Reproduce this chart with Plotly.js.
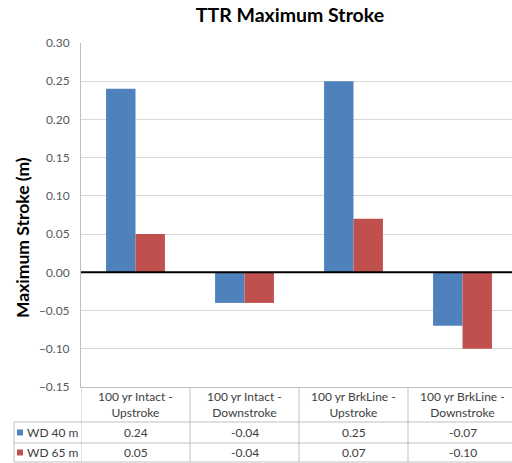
<!DOCTYPE html>
<html>
<head>
<meta charset="utf-8">
<script src="https://cdn.plot.ly/plotly-3.0.1.min.js"></script>
<style>
  html, body { margin: 0; padding: 0; background: #ffffff; }
  #chart { width: 512px; height: 463px; }
</style>
</head>
<body>
<div id="chart"></div>
<script>
// Load cases shown along the category axis
const categories = [
  "100 yr Intact -<br>Upstroke",
  "100 yr Intact -<br>Downstroke",
  "100 yr BrkLine -<br>Upstroke",
  "100 yr BrkLine -<br>Downstroke"
];

// Series names (water depth)
const seriesNames = ["WD 40 m", "WD 65 m"];

// Maximum stroke (m) per load case
const wd40 = [0.24, -0.04, 0.25, -0.07];
const wd65 = [0.05, -0.04, 0.07, -0.10];

const seriesValues = [wd40, wd65];
const seriesColors = ["#4F81BD", "#C0504D"];

const FONT = "Lato, 'Open Sans', 'Liberation Sans', sans-serif";
const TEXT = "#404040";
const GRID = "#d9d9d9";
const BORDER = "#bfbfbf";

// Plot area geometry (pixels) used to place the data table below the axis
const W = 512, H = 463;
const M = { l: 81, r: 0, t: 43, b: 76 };
const plotW = W - M.l - M.r;
const plotH = H - M.t - M.b;
const catPx = 109;                         // width of one category column
const xMax = -0.5 + plotW / catPx;         // table columns keep going past the edge

// pixel -> paper helpers for table placement
const px = x => (x - M.l) / plotW;
const py = y => (H - M.b - y) / plotH;

const idx = categories.map((_, i) => i);

const traces = seriesValues.map((vals, s) => ({
  type: "bar",
  name: seriesNames[s],
  x: idx,
  y: vals,
  marker: { color: seriesColors[s], line: { width: 0 } },
  hoverinfo: "x+y"
}));

const shapes = [];
const annotations = [];

// zero line on top of the bars
shapes.push({
  type: "line", xref: "paper", yref: "y", x0: 0, x1: 1, y0: 0, y1: 0,
  line: { color: "#000000", width: 2 }, layer: "above"
});

// table row boundaries
const rowHeaderBottom = 422, row1Bottom = 443, row2Bottom = 462;
const tableLeft = 14;
[rowHeaderBottom, row1Bottom, row2Bottom].forEach(y => {
  shapes.push({
    type: "line", xref: "paper", yref: "paper",
    x0: px(tableLeft), x1: 1, y0: py(y), y1: py(y),
    line: { color: BORDER, width: 1 }
  });
});
// left edge of the row-label column
shapes.push({
  type: "line", xref: "paper", yref: "paper",
  x0: px(tableLeft), x1: px(tableLeft), y0: py(rowHeaderBottom), y1: py(row2Bottom),
  line: { color: BORDER, width: 1 }
});
// column separators between load cases (extending from the axis down through the table)
for (let i = 0; i <= categories.length; i++) {
  shapes.push({
    type: "line", xref: "x", yref: "paper",
    x0: i - 0.5, x1: i - 0.5, y0: 0, y1: py(row2Bottom),
    line: { color: BORDER, width: 1 }
  });
}

// column headers
categories.forEach((c, i) => {
  annotations.push({
    xref: "x", yref: "paper", x: i, y: py((387 + rowHeaderBottom) / 2),
    text: c, showarrow: false, xanchor: "center", yanchor: "middle",
    align: "center", font: { family: FONT, size: 12, color: TEXT }
  });
});

// rows: legend key, series name, values
const rowCenters = [(rowHeaderBottom + row1Bottom) / 2, (row1Bottom + row2Bottom) / 2];
seriesValues.forEach((vals, s) => {
  const yc = rowCenters[s];
  shapes.push({
    type: "rect", xref: "paper", yref: "paper",
    x0: px(17), x1: px(23), y0: py(yc + 3), y1: py(yc - 3),
    fillcolor: seriesColors[s], line: { width: 0 }
  });
  annotations.push({
    xref: "paper", yref: "paper", x: px(25), y: py(yc),
    text: seriesNames[s], showarrow: false, xanchor: "left", yanchor: "middle",
    font: { family: FONT, size: 12, color: TEXT }
  });
  vals.forEach((v, i) => {
    annotations.push({
      xref: "x", yref: "paper", x: i, y: py(yc),
      text: v.toFixed(2), showarrow: false, xanchor: "center", yanchor: "middle",
      font: { family: FONT, size: 12, color: TEXT }
    });
  });
});

// value-axis title, centred on the whole chart body (plot + table)
annotations.push({
  xref: "paper", yref: "paper", x: px(22), y: py(238),
  text: "<b>Maximum Stroke (m)</b>", textangle: -90, showarrow: false,
  xanchor: "center", yanchor: "middle",
  font: { family: FONT, size: 17.5, color: "#000000" }
});

const layout = {
  width: W, height: H,
  margin: M,
  paper_bgcolor: "#ffffff",
  plot_bgcolor: "#ffffff",
  showlegend: false,
  barmode: "group",
  bargap: 0.46,
  bargroupgap: 0,
  title: {
    text: "<b>TTR Maximum Stroke</b>",
    x: 290 / W, xanchor: "center",
    y: 1 - 15 / H, yanchor: "middle",
    font: { family: FONT, size: 19.5, color: "#000000" }
  },
  xaxis: {
    type: "linear",
    range: [-0.5, xMax],
    showticklabels: false,
    showgrid: false,
    zeroline: false,
    showline: true, linecolor: BORDER, linewidth: 1,
    ticks: ""
  },
  yaxis: {
    range: [-0.15, 0.30],
    dtick: 0.05,
    tick0: 0,
    tickformat: ".2f",
    showgrid: true, gridcolor: GRID, gridwidth: 1,
    zeroline: false,
    showline: true, linecolor: BORDER, linewidth: 1,
    ticks: "",
    ticklabelstandoff: 8,
    tickfont: { family: FONT, size: 12, color: "#595959" },
    automargin: false
  },
  shapes: shapes,
  annotations: annotations
};

Plotly.newPlot("chart", traces, layout, { displayModeBar: false, staticPlot: true });
</script>
</body>
</html>
